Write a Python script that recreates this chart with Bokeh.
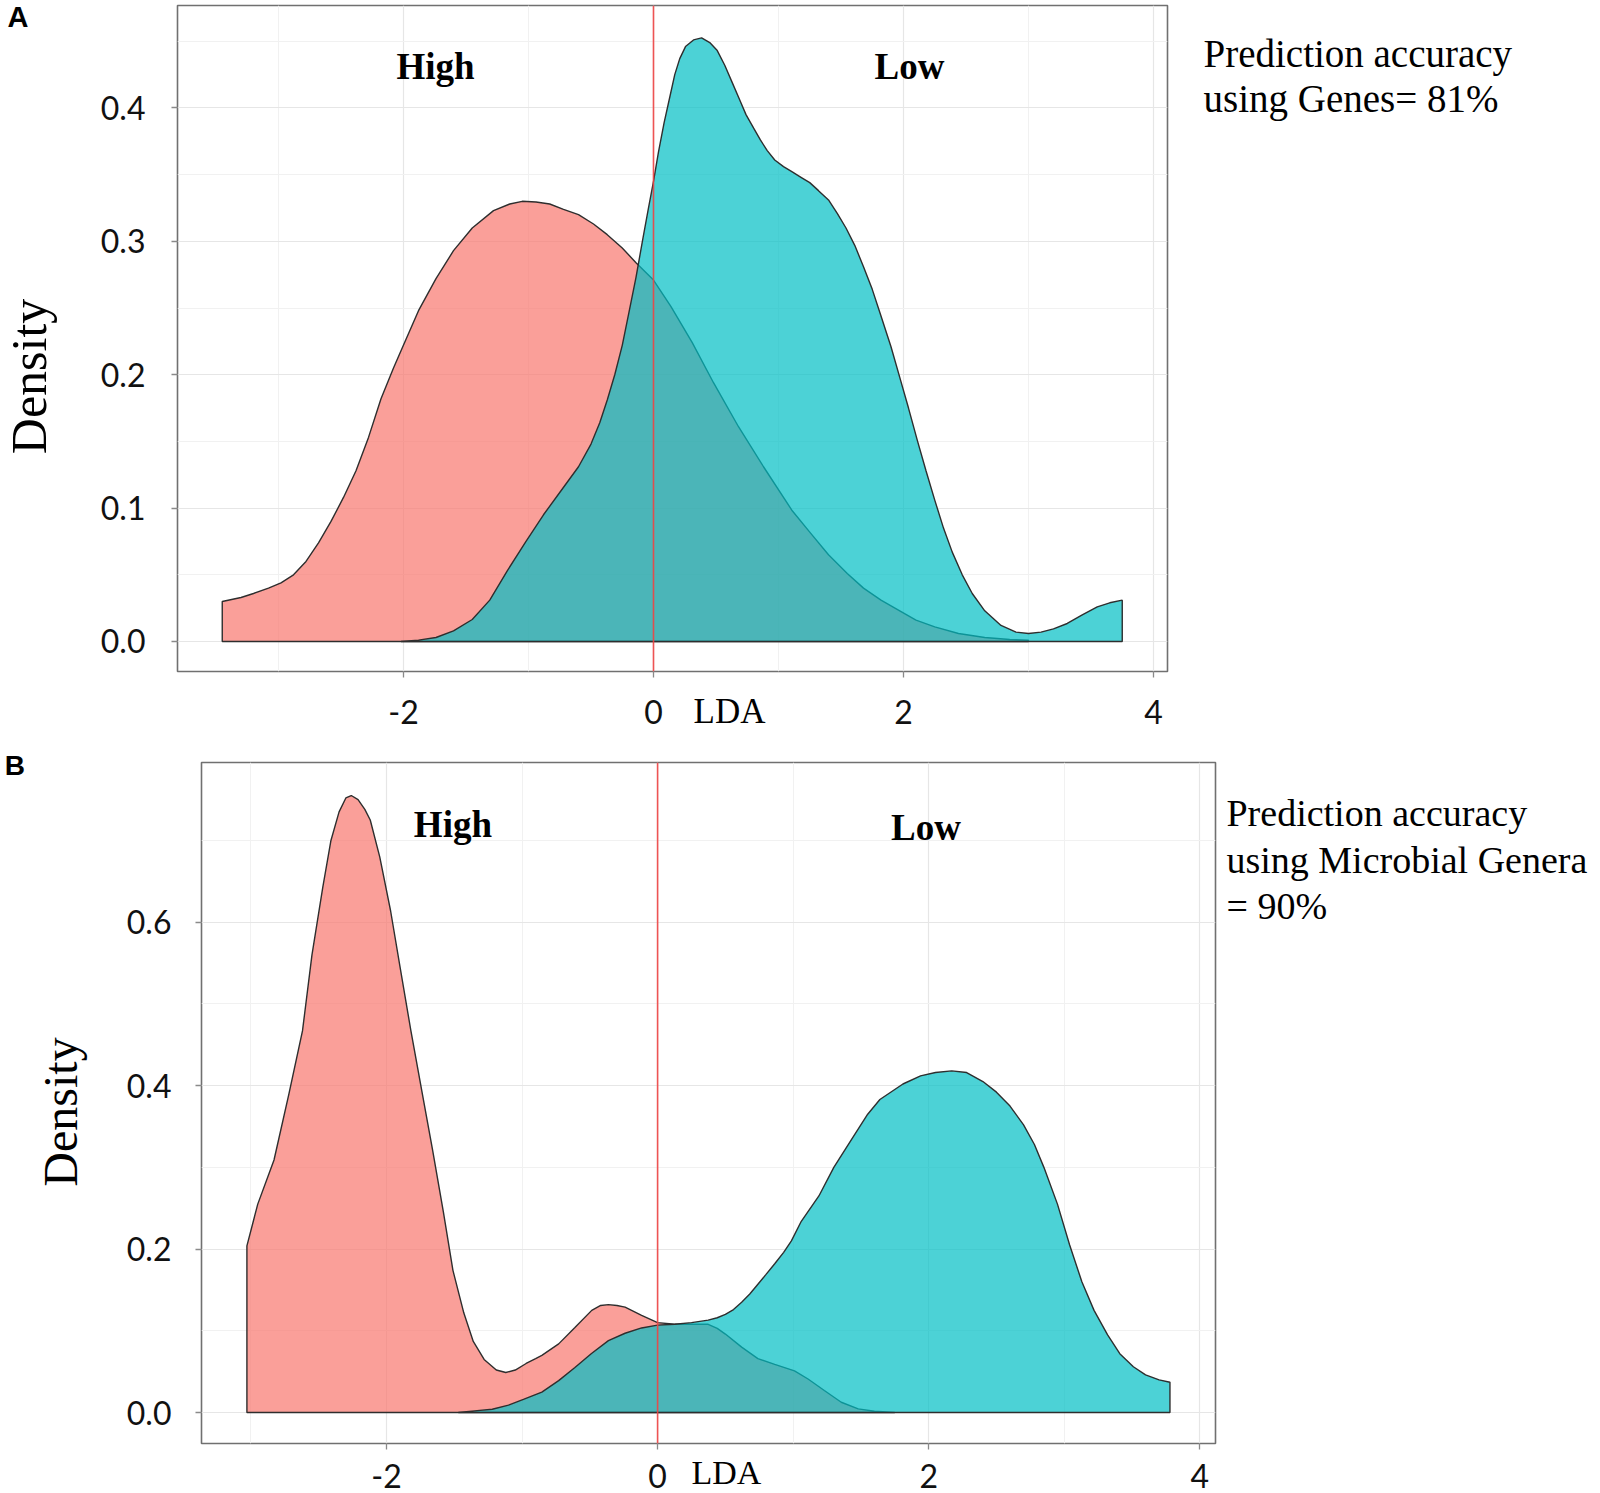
import math
from bokeh.plotting import figure
from bokeh.models import Label, Span, FixedTicker, Range1d, PrintfTickFormatter
from bokeh.embed import file_html
from bokeh.resources import INLINE

# ---------------- data ----------------
# Panel A : LDA using genes
a_high_x = [-3.45, -3.30, -3.20, -3.08, -2.98, -2.88, -2.78, -2.68, -2.58, -2.48,
            -2.38, -2.28, -2.18, -2.08, -2.02, -1.88, -1.74, -1.60, -1.45, -1.28,
            -1.15, -1.05, -0.94, -0.83, -0.72, -0.60, -0.48, -0.37, -0.25, -0.14,
            0.00, 0.14, 0.31, 0.48, 0.68, 0.88, 1.11, 1.25, 1.40, 1.55,
            1.68, 1.82, 1.97, 2.10, 2.25, 2.44, 2.65, 2.85, 3.00]
a_high_y = [0.030, 0.033, 0.036, 0.040, 0.044, 0.050, 0.060, 0.074, 0.090, 0.108,
            0.128, 0.153, 0.182, 0.205, 0.218, 0.248, 0.272, 0.293, 0.310, 0.323,
            0.328, 0.330, 0.3295, 0.328, 0.324, 0.320, 0.313, 0.305, 0.295, 0.284,
            0.271, 0.251, 0.224, 0.194, 0.161, 0.131, 0.098, 0.082, 0.065, 0.051,
            0.040, 0.031, 0.023, 0.016, 0.011, 0.006, 0.003, 0.0015, 0.001]

a_low_x = [-2.02, -1.88, -1.74, -1.60, -1.45, -1.31, -1.17, -1.02, -0.88, -0.74,
           -0.60, -0.50, -0.43, -0.37, -0.31, -0.25, -0.20, -0.14, -0.085, -0.04,
           0.00, 0.04, 0.085, 0.13, 0.17, 0.21, 0.256, 0.32, 0.385, 0.45,
           0.51, 0.57, 0.63, 0.69, 0.74, 0.80, 0.855, 0.91, 0.97, 1.04,
           1.11, 1.18, 1.25, 1.32, 1.40, 1.47, 1.54, 1.61, 1.68, 1.75,
           1.82, 1.90, 1.97, 2.04, 2.11, 2.18, 2.25, 2.32, 2.39, 2.47,
           2.55, 2.65, 2.78, 2.90, 3.00, 3.10, 3.20, 3.31, 3.43, 3.55,
           3.65, 3.75]
a_low_y = [0.000, 0.001, 0.003, 0.008, 0.0165, 0.031, 0.053, 0.075, 0.095, 0.113,
           0.131, 0.148, 0.164, 0.181, 0.200, 0.222, 0.245, 0.273, 0.302, 0.325,
           0.345, 0.367, 0.389, 0.408, 0.425, 0.437, 0.446, 0.451, 0.4525, 0.449,
           0.443, 0.432, 0.419, 0.406, 0.395, 0.385, 0.376, 0.368, 0.361, 0.356,
           0.352, 0.348, 0.344, 0.338, 0.331, 0.321, 0.310, 0.297, 0.281, 0.264,
           0.244, 0.221, 0.198, 0.175, 0.151, 0.128, 0.106, 0.085, 0.067, 0.050,
           0.036, 0.023, 0.012, 0.007, 0.006, 0.007, 0.0095, 0.0135, 0.020, 0.026,
           0.029, 0.031]

# Panel B : LDA using microbial genera
b_high_x = [-3.03, -2.95, -2.83, -2.72, -2.62, -2.55, -2.47, -2.41, -2.35, -2.30,
            -2.26, -2.21, -2.16, -2.12, -2.05, -1.97, -1.90, -1.82, -1.74, -1.66,
            -1.58, -1.51, -1.43, -1.36, -1.28, -1.19, -1.12, -1.05, -0.97, -0.90,
            -0.854, -0.73, -0.61, -0.486, -0.42, -0.363, -0.30, -0.24, -0.118, 0.00,
            0.127, 0.25, 0.373, 0.44, 0.50, 0.62, 0.74, 0.864, 1.01, 1.11,
            1.23, 1.355, 1.48, 1.60, 1.75]
b_high_y = [0.204, 0.255, 0.309, 0.390, 0.467, 0.560, 0.643, 0.700, 0.735, 0.752,
            0.755, 0.750, 0.738, 0.725, 0.680, 0.614, 0.545, 0.467, 0.394, 0.321,
            0.245, 0.174, 0.122, 0.087, 0.065, 0.052, 0.049, 0.052, 0.060, 0.066,
            0.070, 0.084, 0.104, 0.125, 0.131, 0.132, 0.131, 0.129, 0.119, 0.110,
            0.108, 0.108, 0.108, 0.103, 0.096, 0.080, 0.066, 0.059, 0.051, 0.041,
            0.027, 0.0126, 0.0045, 0.0016, 0.000]

b_low_x = [-1.47, -1.35, -1.22, -1.10, -0.99, -0.854, -0.73, -0.61, -0.49, -0.363,
           -0.24, -0.118, 0.00, 0.127, 0.25, 0.373, 0.44, 0.50, 0.56, 0.62,
           0.68, 0.74, 0.80, 0.864, 0.93, 0.987, 1.06, 1.19, 1.30, 1.43,
           1.55, 1.64, 1.81, 1.94, 2.05, 2.17, 2.28, 2.40, 2.50, 2.60,
           2.70, 2.78, 2.85, 2.95, 3.04, 3.13, 3.22, 3.32, 3.41, 3.51,
           3.60, 3.70, 3.78]
b_low_y = [0.000, 0.002, 0.004, 0.009, 0.016, 0.025, 0.039, 0.055, 0.072, 0.088,
           0.097, 0.1035, 0.107, 0.108, 0.110, 0.113, 0.116, 0.120, 0.126, 0.135,
           0.145, 0.157, 0.169, 0.182, 0.196, 0.210, 0.234, 0.265, 0.300, 0.334,
           0.365, 0.383, 0.402, 0.412, 0.416, 0.418, 0.416, 0.405, 0.392, 0.375,
           0.352, 0.328, 0.300, 0.255, 0.205, 0.160, 0.125, 0.095, 0.072, 0.056,
           0.046, 0.040, 0.037]

x_ticks = [-2, 0, 2, 4]
x_minor = [-3, -1, 1, 3]
a_y_ticks = [0.0, 0.1, 0.2, 0.3, 0.4]
a_y_minor = [0.05, 0.15, 0.25, 0.35, 0.45]
b_y_ticks = [0.0, 0.2, 0.4, 0.6]
b_y_minor = [0.1, 0.3, 0.5, 0.7]

group_labels = ["High", "Low"]
panel_letters = ["A", "B"]
a_note = ["Prediction accuracy", "using Genes= 81%"]
b_note = ["Prediction accuracy", "using Microbial Genera", "= 90%"]
x_title = "LDA"
y_title = "Density"

RED = "#F8766D"
CYAN = "#00BFC4"
SERIF = "Liberation Serif"
TICKFONT = "Lato"


def closed(xs, ys):
    return [xs[0]] + list(xs) + [xs[-1]], [0.0] + list(ys) + [0.0]


def make_panel(height, mb_top, mb_bottom, mb_left, mb_right, xr, yr,
               yticks, yminor, x_standoff, y_standoff):
    p = figure(width=1600, height=height, x_range=Range1d(*xr), y_range=Range1d(*yr),
               output_backend="svg", toolbar_location=None,
               min_border_top=mb_top, min_border_bottom=mb_bottom,
               min_border_left=mb_left, min_border_right=mb_right)
    p.background_fill_color = "white"
    p.border_fill_color = "white"
    p.outline_line_color = "#707070"
    p.outline_line_width = 1.6

    p.xaxis.ticker = FixedTicker(ticks=x_ticks, minor_ticks=x_minor)
    p.yaxis.ticker = FixedTicker(ticks=yticks, minor_ticks=yminor)
    p.xaxis.formatter = PrintfTickFormatter(format="%d")
    p.yaxis.formatter = PrintfTickFormatter(format="%.1f")
    for ax in (p.xaxis, p.yaxis):
        ax.axis_line_color = None
        ax.major_tick_line_color = "#8a8a8a"
        ax.major_tick_line_width = 1.3
        ax.major_tick_in = 0
        ax.major_tick_out = 6
        ax.minor_tick_line_color = None
        ax.major_label_text_font = TICKFONT
        ax.major_label_text_font_size = "32px"
        ax.major_label_text_color = "#111111"
        ax.major_label_text_line_height = 0.8
    p.xaxis.major_label_standoff = x_standoff
    p.yaxis.major_label_standoff = y_standoff

    for g in (p.xgrid, p.ygrid):
        g.grid_line_color = "#e6e6e6"
        g.grid_line_width = 1.2
        g.minor_grid_line_color = "#f1f1f1"
        g.minor_grid_line_width = 1.0
    return p


def add_densities(p, hx, hy, lx, ly):
    px, py = closed(hx, hy)
    p.patch(px, py, fill_color=RED, fill_alpha=0.7, line_color="#2e2e2e", line_width=1.4)
    px, py = closed(lx, ly)
    p.patch(px, py, fill_color=CYAN, fill_alpha=0.7, line_color="#2e2e2e", line_width=1.4)
    p.add_layout(Span(location=0, dimension="height", line_color="#EE4444",
                      line_alpha=0.9, line_width=1.6))


def txt(p, place, x, y, text, size, font=SERIF, style="normal", align="left",
        baseline="alphabetic", angle=0.0, line_height=1.2):
    lab = Label(x=x, y=y, text=text, text_font=font, text_font_size=size,
                text_font_style=style, text_align=align, text_baseline=baseline,
                angle=angle, text_color="#000000", text_line_height=line_height)
    p.add_layout(lab, place)


# ---------------- panel A ----------------
# canvas: y 0..731 ; frame: x 177..1167, y 5..671
pa = make_panel(731, 5, 60, 177, 433, (-3.808, 4.112), (-0.0225, 0.4768),
                a_y_ticks, a_y_minor, 22, 26)
add_densities(pa, a_high_x, a_high_y, a_low_x, a_low_y)
txt(pa, "center", -1.744, 0.431, group_labels[0], "37px", style="bold", align="center")
txt(pa, "center", 2.048, 0.431, group_labels[1], "37px", style="bold", align="center")
txt(pa, "right", 4.40, 0.4572, "\n".join(a_note), "39px", baseline="top", line_height=1.065)
txt(pa, "right", 0.608, -0.0525, x_title, "35px", align="center", baseline="middle")
txt(pa, "left", -5.0, 0.1987, y_title, "50px", align="center", baseline="middle",
    angle=math.pi / 2)
txt(pa, "left", -5.168, 0.4685, panel_letters[0], "29px", font="Liberation Sans",
    style="bold")

# ---------------- panel B ----------------
# canvas: y 731..1493 ; frame: x 199..1215, y 761..1443
pb = make_panel(762, 30, 50, 199, 385, (-3.365, 4.116), (-0.0379, 0.7954),
                b_y_ticks, b_y_minor, 14, 24)
add_densities(pb, b_high_x, b_high_y, b_low_x, b_low_y)
txt(pb, "center", -1.51, 0.7196, group_labels[0], "37px", style="bold", align="center")
txt(pb, "center", 1.98, 0.7164, group_labels[1], "37px", style="bold", align="center")
txt(pb, "right", 4.197, 0.7587, "\n".join(b_note), "38px", baseline="top", line_height=1.105)
txt(pb, "left", 0.508, -0.0733, x_title, "34px", align="center", baseline="middle")
txt(pb, "left", -4.403, 0.3677, y_title, "48px", align="center", baseline="middle",
    angle=math.pi / 2)
txt(pb, "above", -4.816, 0.7917, panel_letters[1], "28px", font="Liberation Sans",
    style="bold")

open("out.html", "w").write(file_html([pa, pb], INLINE))
